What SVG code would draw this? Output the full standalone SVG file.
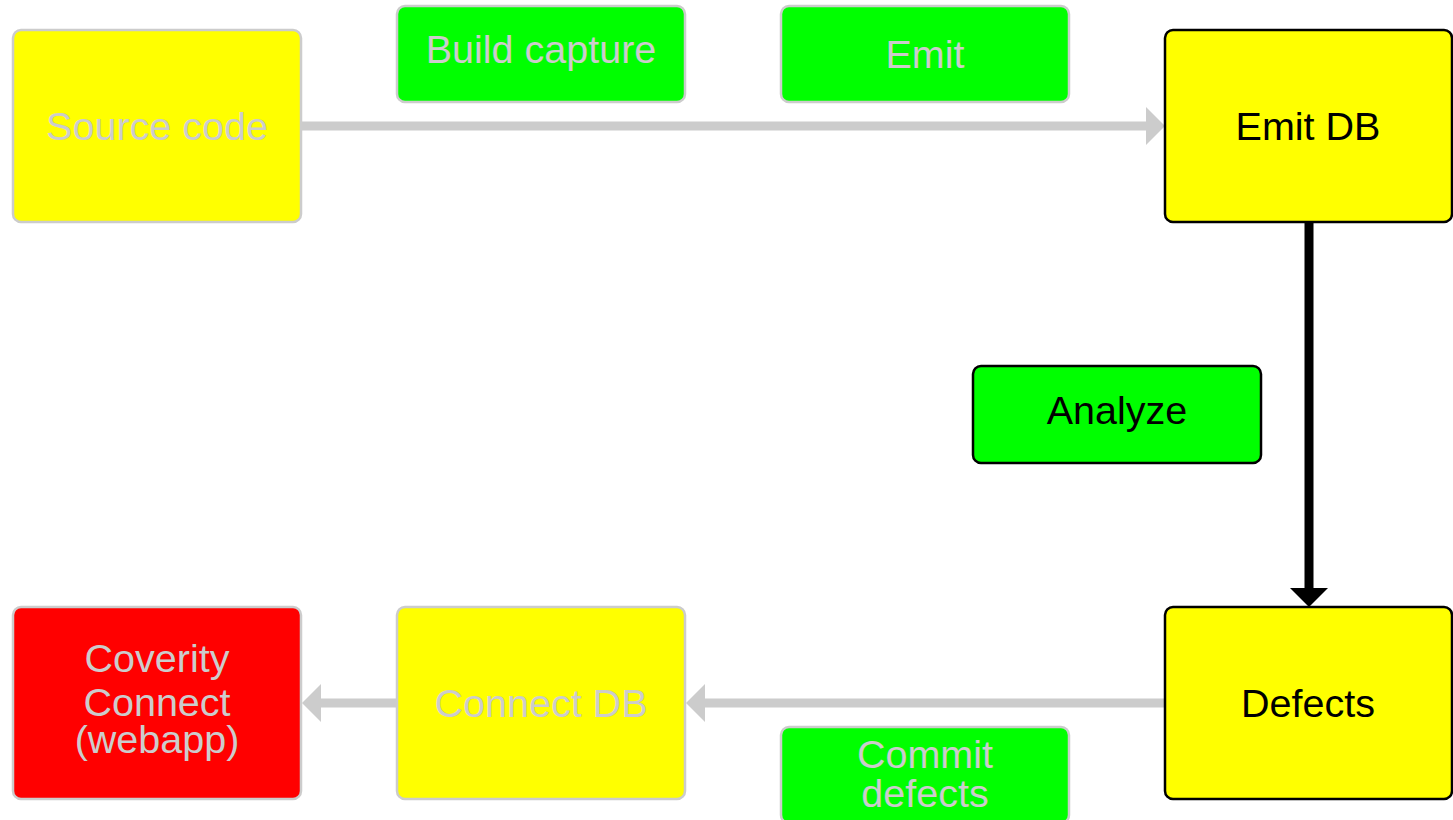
<svg xmlns="http://www.w3.org/2000/svg" width="1453" height="820" viewBox="0 0 1453 820">
  <style>
    .box { stroke-width: 2.5; }
    .dim { stroke: #cccccc; }
    .dark { stroke: #000000; }
    .yellow { fill: #ffff00; }
    .green { fill: #00ff00; }
    .red { fill: #ff0000; }
    text { font-family: "Liberation Sans", Arial, Helvetica, sans-serif; font-size: 39.5px; text-anchor: middle; }
    .tdim { fill: #cccccc; }
    .tdark { fill: #000000; }
    .edge { fill: none; stroke-width: 9; }
  </style>
  <defs>
    <marker id="headGray" markerUnits="userSpaceOnUse" viewBox="0 0 19 38" refX="0" refY="19" markerWidth="19" markerHeight="38" orient="auto">
      <path d="M0,0 L19,19 L0,38 Z" fill="#cccccc"/>
    </marker>
    <marker id="headBlack" markerUnits="userSpaceOnUse" viewBox="0 0 19 38" refX="0" refY="19" markerWidth="19" markerHeight="38" orient="auto">
      <path d="M0,0 L19,19 L0,38 Z" fill="#000000"/>
    </marker>
  </defs>
  <rect width="1453" height="820" fill="#ffffff"/>

  <g id="connectors">
    <path class="edge" d="M301,126 L1146,126" stroke="#cccccc" marker-end="url(#headGray)"/>
    <path class="edge" d="M1309,222 L1309,588" stroke="#000000" marker-end="url(#headBlack)"/>
    <path class="edge" d="M1165,703 L705,703" stroke="#cccccc" marker-end="url(#headGray)"/>
    <path class="edge" d="M397,703 L321,703" stroke="#cccccc" marker-end="url(#headGray)"/>
  </g>

  <g id="source-code">
    <rect class="box dim yellow" x="13" y="30" width="288" height="192" rx="8"/>
    <text class="tdim" x="157" y="140">Source code</text>
  </g>
  <g id="build-capture">
    <rect class="box dim green" x="397" y="6" width="288" height="96" rx="8"/>
    <text class="tdim" x="541" y="63">Build capture</text>
  </g>
  <g id="emit">
    <rect class="box dim green" x="781" y="6" width="288" height="96" rx="8"/>
    <text class="tdim" x="925" y="68">Emit</text>
  </g>
  <g id="emit-db">
    <rect class="box dark yellow" x="1165" y="30" width="287" height="192" rx="8"/>
    <text class="tdark" x="1308" y="140">Emit DB</text>
  </g>
  <g id="analyze">
    <rect class="box dark green" x="973" y="366" width="288" height="97" rx="8"/>
    <text class="tdark" x="1117" y="424">Analyze</text>
  </g>
  <g id="defects">
    <rect class="box dark yellow" x="1165" y="607" width="287" height="192" rx="8"/>
    <text class="tdark" x="1308" y="717">Defects</text>
  </g>
  <g id="connect-db">
    <rect class="box dim yellow" x="397" y="607" width="288" height="192" rx="8"/>
    <text class="tdim" x="541" y="717">Connect DB</text>
  </g>
  <g id="coverity-connect">
    <rect class="box dim red" x="13" y="607" width="288" height="192" rx="8"/>
    <text class="tdim" x="157" y="672">Coverity</text>
    <text class="tdim" x="157" y="716">Connect</text>
    <text class="tdim" x="157" y="753">(webapp)</text>
  </g>
  <g id="commit-defects">
    <rect class="box dim green" x="781" y="727" width="288" height="96" rx="8"/>
    <text class="tdim" x="925" y="768">Commit</text>
    <text class="tdim" x="925" y="807">defects</text>
  </g>
</svg>
